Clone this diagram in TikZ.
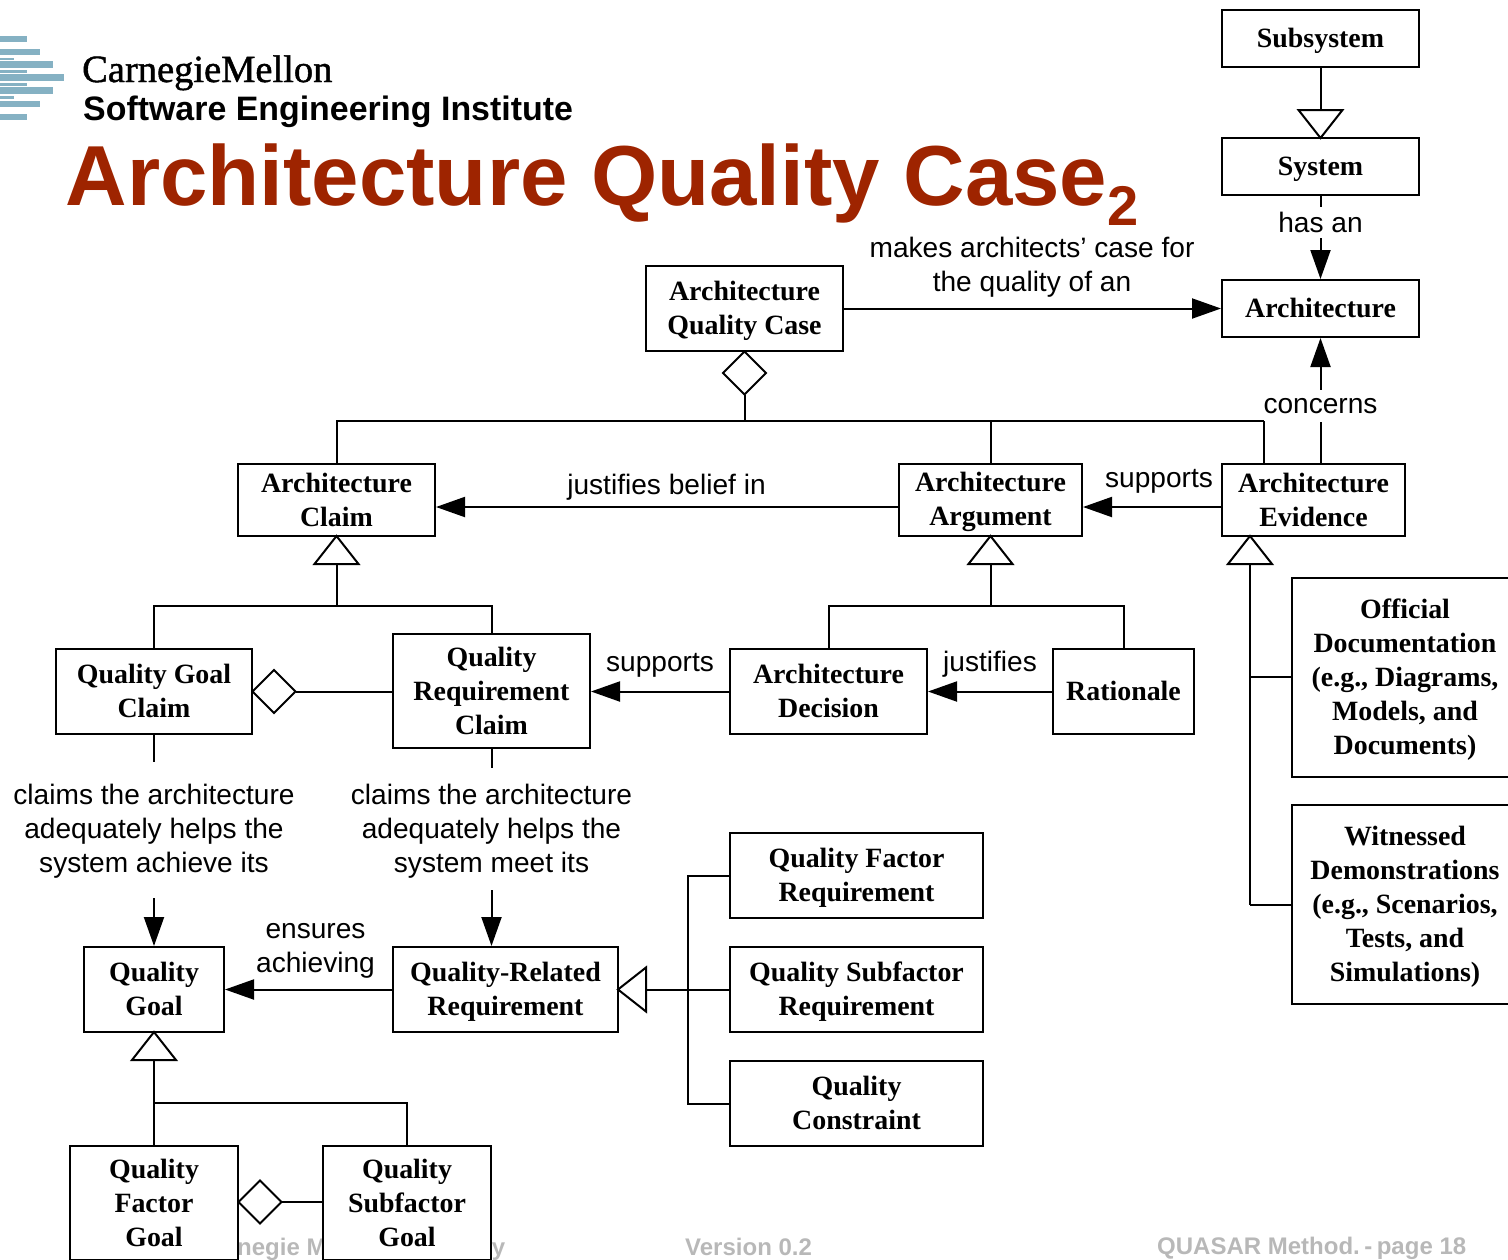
\documentclass[tikz,border=0pt]{standalone}
\usepackage{fontspec}
\setmainfont{Liberation Serif}
\setsansfont{Liberation Sans}
\newfontfamily\cmufont[FakeBold=1.2]{Liberation Serif}
\usetikzlibrary{arrows.meta,shapes.geometric,calc}
\definecolor{titlered}{HTML}{9E2400}
\definecolor{logoteal}{HTML}{85B1C3}
\definecolor{footgrey}{HTML}{B8B8B8}
\newcommand{\bx}[6]{\node[boxn,minimum width={(#4-#2)*1pt},minimum height={(#5-#3)*1pt}] (#1) at ({(#2+#4)/2},{(#3+#5)/2}) {\rule{0pt}{24pt}#6\rule[-6pt]{0pt}{6pt}};}
\newcommand{\stripe}[3]{\fill[logoteal] (0,#1) rectangle (#3,#2);}
\tikzset{
  boxn/.style={draw=black,fill=white,line width=2pt,inner sep=0pt,align=center,
    font=\fontsize{27.9}{34}\selectfont\bfseries},
  lab/.style={inner sep=0pt,align=center,font=\fontsize{28.1}{34}\selectfont\sffamily},
  link/.style={line width=2pt,draw=black},
  arr/.style={link,-{Triangle[length=29pt,width=20pt]}},
  tri/.style={isosceles triangle,isosceles triangle stretches,draw=black,fill=white,line width=2pt,
    inner sep=0pt,outer sep=0pt,minimum width=44pt,minimum height=28pt},
  dia/.style={diamond,draw=black,fill=white,line width=2pt,inner sep=0pt,outer sep=0pt,minimum width=43pt,minimum height=43pt},
  foot/.style={inner sep=0pt,anchor=base west,text=footgrey,font=\fontsize{24}{28}\selectfont\sffamily\bfseries},
}
\begin{document}
\begin{tikzpicture}[x=1pt,y=-1pt]
\useasboundingbox (0,0) rectangle (1508,1259);
\clip (0,0) rectangle (1508,1259);
% logo
\stripe{36}{42}{27}\stripe{49}{55}{40}\stripe{58}{60}{14}\stripe{61}{68}{53}\stripe{70}{73}{27}
\stripe{74}{81}{64}\stripe{83}{86}{27}\stripe{87}{94}{53}\stripe{96}{99}{14}\stripe{101}{107}{40}\stripe{114}{120}{27}
\node[inner sep=0pt,anchor=base west,font=\cmufont\fontsize{38.5}{40}\selectfont] (cmu) at (82,82) {CarnegieMellon};
\node[inner sep=0pt,anchor=base west,font=\fontsize{33.9}{36}\selectfont\sffamily\bfseries] (sei) at (83,120) {Software Engineering Institute};
\node[inner sep=0pt,anchor=base west,text=titlered,font=\fontsize{85.2}{90}\selectfont\sffamily\bfseries] (title) at (65.5,205)
  {Architecture Quality Case\raisebox{-20pt}{\fontsize{56}{60}\selectfont 2}};
% footer
\node[foot] (f1) at (197,1255) {Carnegie Mellon University};
\node[foot] (f2) at (685,1255) {Version 0.2};
\node[foot] (f3) at (1157,1254) {QUASAR Method.\hspace{4.5pt}-\hspace{4.5pt}page 18};
% boxes
\bx{sub}{1222}{10}{1419}{67}{Subsystem}
\bx{sys}{1222}{138}{1419}{195}{System}
\bx{arch}{1222}{280}{1419}{337}{Architecture}
\bx{aqc}{646}{266}{843}{351}{Architecture\\Quality Case}
\bx{claim}{238}{464}{435}{536}{Architecture\\Claim}
\bx{argu}{899}{464}{1082}{536}{Architecture\\Argument}
\bx{evid}{1222}{464}{1405}{536}{Architecture\\Evidence}
\bx{off}{1292}{578}{1518}{777}{Official\\Documentation\\(e.g., Diagrams,\\Models, and\\Documents)}
\bx{wit}{1292}{805}{1518}{1004}{Witnessed\\Demonstrations\\(e.g., Scenarios,\\Tests, and\\Simulations)}
\bx{qgc}{56}{649}{252}{734}{Quality Goal\\Claim}
\bx{qrc}{393}{634}{590}{748}{Quality\\Requirement\\Claim}
\bx{adec}{730}{649}{927}{734}{Architecture\\Decision}
\bx{rat}{1053}{649}{1194}{734}{Rationale}
\bx{qfr}{730}{833}{983}{918}{Quality Factor\\Requirement}
\bx{qsr}{730}{947}{983}{1032}{Quality Subfactor\\Requirement}
\bx{qcon}{730}{1061}{983}{1146}{Quality\\Constraint}
\bx{qg}{84}{947}{224}{1032}{Quality\\Goal}
\bx{qrr}{393}{947}{618}{1032}{Quality-Related\\Requirement}
\bx{qfg}{70}{1146}{238}{1260}{Quality\\Factor\\Goal}
\bx{qsg}{323}{1146}{491}{1260}{Quality\\Subfactor\\Goal}
% labels
\node[lab] (lmakes) at (1032,267) {makes architects’ case for\\the quality of an};
\node[lab,minimum height=31pt] (lhas) at (1320.5,222.5) {has an};
\node[lab,minimum height=32pt] (lcon) at (1320.5,406) {concerns};
\node[lab] (ljb) at (666.5,487) {justifies belief in};
\node[lab] (lsup1) at (1159,481) {supports};
\node[lab] (lsup2) at (660,665) {supports};
\node[lab] (ljus) at (990,664) {justifies};
\node[lab,minimum height=138pt] (lqg) at (154,831) {claims the architecture\\adequately helps the\\system achieve its};
\node[lab,minimum height=126pt] (lqr) at (491.5,831) {claims the architecture\\adequately helps the\\system meet its};
\node[lab] (lens) at (315.5,951) {ensures\\achieving};
% generalisation triangles
\node[tri,shape border rotate=-90,anchor=apex] (t1) at (1320.5,138) {};
\node[tri,shape border rotate=90,anchor=apex] (t2) at (336.5,536) {};
\node[tri,shape border rotate=90,anchor=apex] (t3) at (990.5,536) {};
\node[tri,shape border rotate=90,anchor=apex] (t4) at (1250,536) {};
\node[tri,shape border rotate=180,anchor=apex] (t5) at (618,989.5) {};
\node[tri,shape border rotate=90,anchor=apex] (t6) at (154,1032) {};
% aggregation diamonds
\node[dia,anchor=north] (d1) at (744.5,351.5) {};
\node[dia,anchor=west] (d2) at (252.5,691.5) {};
\node[dia,anchor=west] (d3) at (238.5,1202) {};
% junctions
\coordinate (busa) at (744.5,421);
\coordinate (buse) at (1264,421);
\coordinate (busb) at (336.5,606);
\coordinate (busc) at (990.5,606);
\coordinate (busd) at (154,1103);
\coordinate (buse2) at (688,989.5);
\coordinate (tee1) at (1250,677);
\coordinate (tee2) at (1250,905);
% connectors
\draw[link] (sub.south) -- (t1.lower side);
\draw[link] (sys.south) -- (lhas.north);
\draw[arr] (lhas.south) -- (arch.north);
\draw[arr] (aqc.east) -- (arch.west);
\draw[arr] (lcon.north) -- (arch.south);
\draw[link] (lcon.south) -- (lcon.south |- evid.north);
\draw[link] (d1.south) -- (busa);
\draw[link] (claim.north) |- (buse);
\draw[link] (argu.north) -- (argu.north |- busa);
\draw[link] (buse) -- (buse |- evid.north);
\draw[arr] (argu.west |- 0,507) -- (claim.east |- 0,507);
\draw[arr] (evid.west |- 0,507) -- (argu.east |- 0,507);
\draw[link] (t2.lower side) -- (busb);
\draw[link] (qgc.north) |- (qrc.north |- busb) -- (qrc.north);
\draw[link] (t3.lower side) -- (busc);
\draw[link] (adec.north) |- (rat.north |- busc) -- (rat.north);
\draw[link] (t4.lower side) -- (tee2);
\draw[link] (tee1) -- (off.west |- tee1);
\draw[link] (tee2) -- (wit.west |- tee2);
\draw[link] (d2.east) -- (qrc.west |- d2.east);
\draw[arr] (adec.west) -- (qrc.east |- adec.west);
\draw[arr] (rat.west) -- (adec.east);
\draw[link] (qgc.south) -- (lqg.north);
\draw[arr] ([yshift=2pt]lqg.south) -- (qg.north);
\draw[link] (qrc.south) -- (lqr.north);
\draw[arr] ([yshift=4pt]lqr.south) -- (lqr.south |- qrr.north);
\draw[arr] (qrr.west) -- (qg.east);
\draw[link] (t5.lower side) -- (buse2);
\draw[link] (qfr.west) -| (buse2);
\draw[link] (qcon.west) -| (buse2);
\draw[link] (buse2) -- (qsr.west);
\draw[link] (t6.lower side) -- (qfg.north);
\draw[link] (busd) -| (qsg.north);
\draw[link] (d3.east) -- (qsg.west |- d3.east);
\end{tikzpicture}
\end{document}
